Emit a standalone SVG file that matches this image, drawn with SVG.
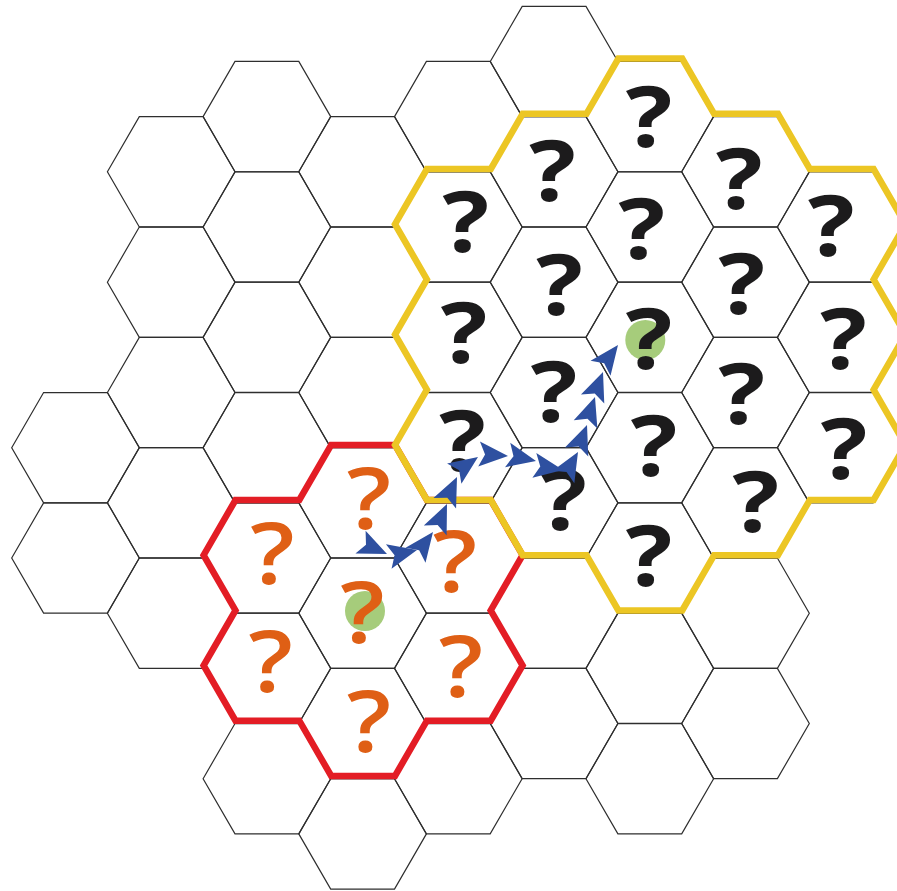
<svg xmlns="http://www.w3.org/2000/svg" xmlns:xlink="http://www.w3.org/1999/xlink" width="897" height="891" viewBox="0 0 897 891">
<style>
.hx{fill:none;stroke:#2e2e2e;stroke-width:1.2}
.q{font-family:"Open Sans","DejaVu Sans",sans-serif;font-size:85px;text-anchor:middle}
.qb{fill:#1c1b1c;font-weight:700}
.qo{fill:#df5f15;font-weight:600}
.grn{fill:#a6cc7b}
.reg{fill:none;stroke-width:6.5;stroke-linejoin:miter;stroke-miterlimit:10}
.arr{fill:#2e50a0}
</style>
<defs>
<polygon id="hex" points="-63.8,0 -31.9,-55.17 31.9,-55.17 63.8,0 31.9,55.17 -31.9,55.17"/>
<path id="arrow" d="M0,0 L-29,-12.5 L-23,0 L-29,12.5 Z"/>
</defs>
<rect width="897" height="891" fill="#fff"/>
<g id="grid">
<g id="hex-c0-r8" transform="translate(75.5,447.7)"><use href="#hex" class="hx"/></g>
<g id="hex-c0-r10" transform="translate(75.5,558)"><use href="#hex" class="hx"/></g>
<g id="hex-c1-r3" transform="translate(171.2,171.8)"><use href="#hex" class="hx"/></g>
<g id="hex-c1-r5" transform="translate(171.2,282.2)"><use href="#hex" class="hx"/></g>
<g id="hex-c1-r7" transform="translate(171.2,392.5)"><use href="#hex" class="hx"/></g>
<g id="hex-c1-r9" transform="translate(171.2,502.8)"><use href="#hex" class="hx"/></g>
<g id="hex-c1-r11" transform="translate(171.2,613.2)"><use href="#hex" class="hx"/></g>
<g id="hex-c2-r2" transform="translate(266.9,116.6)"><use href="#hex" class="hx"/></g>
<g id="hex-c2-r4" transform="translate(266.9,227)"><use href="#hex" class="hx"/></g>
<g id="hex-c2-r6" transform="translate(266.9,337.3)"><use href="#hex" class="hx"/></g>
<g id="hex-c2-r8" transform="translate(266.9,447.7)"><use href="#hex" class="hx"/></g>
<g id="hex-c2-r10" transform="translate(266.9,558)"><use href="#hex" class="hx"/></g>
<g id="hex-c2-r12" transform="translate(266.9,668.3)"><use href="#hex" class="hx"/></g>
<g id="hex-c2-r14" transform="translate(266.9,778.7)"><use href="#hex" class="hx"/></g>
<g id="hex-c3-r3" transform="translate(362.6,171.8)"><use href="#hex" class="hx"/></g>
<g id="hex-c3-r5" transform="translate(362.6,282.2)"><use href="#hex" class="hx"/></g>
<g id="hex-c3-r7" transform="translate(362.6,392.5)"><use href="#hex" class="hx"/></g>
<g id="hex-c3-r9" transform="translate(362.6,502.8)"><use href="#hex" class="hx"/></g>
<g id="hex-c3-r11" transform="translate(362.6,613.2)"><use href="#hex" class="hx"/></g>
<g id="hex-c3-r13" transform="translate(362.6,723.5)"><use href="#hex" class="hx"/></g>
<g id="hex-c3-r15" transform="translate(362.6,833.9)"><use href="#hex" class="hx"/></g>
<g id="hex-c4-r2" transform="translate(458.3,116.6)"><use href="#hex" class="hx"/></g>
<g id="hex-c4-r4" transform="translate(458.3,227)"><use href="#hex" class="hx"/></g>
<g id="hex-c4-r6" transform="translate(458.3,337.3)"><use href="#hex" class="hx"/></g>
<g id="hex-c4-r8" transform="translate(458.3,447.7)"><use href="#hex" class="hx"/></g>
<g id="hex-c4-r10" transform="translate(458.3,558)"><use href="#hex" class="hx"/></g>
<g id="hex-c4-r12" transform="translate(458.3,668.3)"><use href="#hex" class="hx"/></g>
<g id="hex-c4-r14" transform="translate(458.3,778.7)"><use href="#hex" class="hx"/></g>
<g id="hex-c5-r1" transform="translate(554.1,61.5)"><use href="#hex" class="hx"/></g>
<g id="hex-c5-r3" transform="translate(554.1,171.8)"><use href="#hex" class="hx"/></g>
<g id="hex-c5-r5" transform="translate(554.1,282.2)"><use href="#hex" class="hx"/></g>
<g id="hex-c5-r7" transform="translate(554.1,392.5)"><use href="#hex" class="hx"/></g>
<g id="hex-c5-r9" transform="translate(554.1,502.8)"><use href="#hex" class="hx"/></g>
<g id="hex-c5-r11" transform="translate(554.1,613.2)"><use href="#hex" class="hx"/></g>
<g id="hex-c5-r13" transform="translate(554.1,723.5)"><use href="#hex" class="hx"/></g>
<g id="hex-c6-r2" transform="translate(649.8,116.6)"><use href="#hex" class="hx"/></g>
<g id="hex-c6-r4" transform="translate(649.8,227)"><use href="#hex" class="hx"/></g>
<g id="hex-c6-r6" transform="translate(649.8,337.3)"><use href="#hex" class="hx"/></g>
<g id="hex-c6-r8" transform="translate(649.8,447.7)"><use href="#hex" class="hx"/></g>
<g id="hex-c6-r10" transform="translate(649.8,558)"><use href="#hex" class="hx"/></g>
<g id="hex-c6-r12" transform="translate(649.8,668.3)"><use href="#hex" class="hx"/></g>
<g id="hex-c6-r14" transform="translate(649.8,778.7)"><use href="#hex" class="hx"/></g>
<g id="hex-c7-r3" transform="translate(745.5,171.8)"><use href="#hex" class="hx"/></g>
<g id="hex-c7-r5" transform="translate(745.5,282.2)"><use href="#hex" class="hx"/></g>
<g id="hex-c7-r7" transform="translate(745.5,392.5)"><use href="#hex" class="hx"/></g>
<g id="hex-c7-r9" transform="translate(745.5,502.8)"><use href="#hex" class="hx"/></g>
<g id="hex-c7-r11" transform="translate(745.5,613.2)"><use href="#hex" class="hx"/></g>
<g id="hex-c7-r13" transform="translate(745.5,723.5)"><use href="#hex" class="hx"/></g>
<g id="hex-c8-r4" transform="translate(841.2,227)"><use href="#hex" class="hx"/></g>
<g id="hex-c8-r6" transform="translate(841.2,337.3)"><use href="#hex" class="hx"/></g>
<g id="hex-c8-r8" transform="translate(841.2,447.7)"><use href="#hex" class="hx"/></g>
</g>
<g id="regions" transform="translate(0.5,-2.8)">
<polygon id="region-red" class="reg" stroke="#e31d25" points="330.7,447.7 394.5,447.7 426.4,502.8 490.2,502.8 522.1,558 490.2,613.2 522.1,668.3 490.2,723.5 426.4,723.5 394.5,778.7 330.7,778.7 298.8,723.5 235,723.5 203.1,668.3 235,613.2 203.1,558 235,502.8 298.8,502.8"/>
<polygon id="region-yellow" class="reg" stroke="#ecc624" points="617.9,61.4 681.7,61.4 713.6,116.6 777.4,116.6 809.3,171.8 873.1,171.8 905,227 873.1,282.2 905,337.3 873.1,392.5 905,447.7 873.1,502.8 809.3,502.8 777.4,558 713.6,558 681.7,613.2 617.9,613.2 586,558 522.2,558 490.3,502.8 426.4,502.8 394.5,447.7 426.4,392.5 394.5,337.3 426.4,282.2 394.5,227 426.4,171.8 490.3,171.8 522.2,116.6 586,116.6"/>
</g>
<g id="markers">
<circle id="goal-yellow" class="grn" cx="645.3" cy="340" r="20"/>
<circle id="goal-red" class="grn" cx="365" cy="611" r="20"/>
</g>
<g id="labels">
<text class="q qb" transform="translate(649,147) scale(1.15,1)">?</text>
<text class="q qb" transform="translate(552.5,201) scale(1.15,1)">?</text>
<text class="q qb" transform="translate(739.3,208.5) scale(1.15,1)">?</text>
<text class="q qb" transform="translate(465.8,251.8) scale(1.15,1)">?</text>
<text class="q qb" transform="translate(641.7,258.5) scale(1.15,1)">?</text>
<text class="q qb" transform="translate(831.3,255.5) scale(1.15,1)">?</text>
<text class="q qb" transform="translate(559.5,314.5) scale(1.15,1)">?</text>
<text class="q qb" transform="translate(741.7,313.5) scale(1.15,1)">?</text>
<text class="q qb" transform="translate(464,362.7) scale(1.15,1)">?</text>
<text class="q qb" transform="translate(649,368.5) scale(1.15,1)">?</text>
<text class="q qb" transform="translate(843.5,369.3) scale(1.15,1)">?</text>
<text class="q qb" transform="translate(554,422) scale(1.15,1)">?</text>
<text class="q qb" transform="translate(741.7,424.3) scale(1.15,1)">?</text>
<text class="q qb" transform="translate(462.5,471) scale(1.15,1)">?</text>
<text class="q qb" transform="translate(654,476) scale(1.15,1)">?</text>
<text class="q qb" transform="translate(844,479) scale(1.15,1)">?</text>
<text class="q qb" transform="translate(563.5,530) scale(1.15,1)">?</text>
<text class="q qb" transform="translate(755.8,531.8) scale(1.15,1)">?</text>
<text class="q qb" transform="translate(649,586) scale(1.15,1)">?</text>
<text class="q qo" transform="translate(369,529.3) scale(1.15,1)">?</text>
<text class="q qo" transform="translate(272.5,584.3) scale(1.15,1)">?</text>
<text class="q qo" transform="translate(455,592) scale(1.15,1)">?</text>
<text class="q qo" transform="translate(362.5,642.7) scale(1.15,1)">?</text>
<text class="q qo" transform="translate(270.8,691.8) scale(1.15,1)">?</text>
<text class="q qo" transform="translate(461,697) scale(1.15,1)">?</text>
<text class="q qo" transform="translate(369,751.8) scale(1.15,1)">?</text>
</g>
<g id="connectors" class="arr">
<use href="#arrow" transform="translate(387,554) rotate(24)"/>
<use href="#arrow" transform="translate(417,550) rotate(-13)"/>
<use href="#arrow" transform="translate(433,532) rotate(-53)"/>
<use href="#arrow" transform="translate(447,504) rotate(-66)"/>
<use href="#arrow" transform="translate(457,477) rotate(-65)"/>
<use href="#arrow" transform="translate(478,457) rotate(-35)"/>
<use href="#arrow" transform="translate(508,456) rotate(4)"/>
<use href="#arrow" transform="translate(536,461) rotate(12)"/>
<use href="#arrow" transform="translate(563,470) rotate(9)"/>
<use href="#arrow" transform="translate(578,452) rotate(-60)"/>
<use href="#arrow" transform="translate(587,425) rotate(-69)"/>
<use href="#arrow" transform="translate(595,397) rotate(-71)"/>
<use href="#arrow" transform="translate(603,372) rotate(-69)"/>
<use href="#arrow" transform="translate(618,345) rotate(-53)"/>
</g>
</svg>
